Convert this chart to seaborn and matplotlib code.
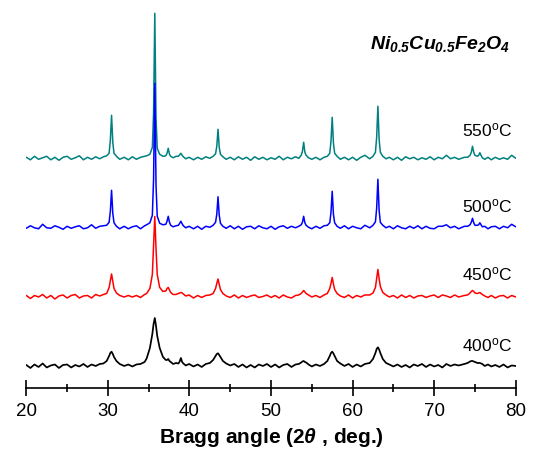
import numpy as np
import pandas as pd
import matplotlib
matplotlib.use("Agg")
import matplotlib.pyplot as plt
from matplotlib.ticker import MultipleLocator
import seaborn as sns

# ---- data ----
two_theta = [
    20.0, 20.5, 21.0, 21.5, 22.0, 22.5, 23.0, 23.5, 24.0, 24.5,
    25.0, 25.5, 26.0, 26.5, 27.0, 27.5, 28.0, 28.5, 29.0, 29.45,
    29.85, 30.15, 30.3, 30.45, 30.6, 30.75, 31.05, 31.45, 32.0, 32.5,
    33.0, 33.5, 34.0, 34.5, 34.75, 35.15, 35.45, 35.6, 35.75, 35.9,
    36.05, 36.35, 36.75, 37.1, 37.25, 37.4, 37.55, 37.7, 38.0, 38.35,
    38.65, 38.8, 38.95, 39.1, 39.25, 39.55, 39.95, 40.5, 41.0, 41.5,
    42.0, 42.5, 42.9, 43.2, 43.35, 43.5, 43.65, 43.8, 44.1, 44.5,
    45.0, 45.5, 46.0, 46.5, 47.0, 47.5, 48.0, 48.5, 49.0, 49.5,
    50.0, 50.5, 51.0, 51.5, 52.0, 52.5, 53.0, 53.4, 53.7, 53.85,
    54.0, 54.15, 54.3, 54.6, 55.0, 55.5, 56.0, 56.5, 56.9, 57.2,
    57.35, 57.5, 57.65, 57.8, 58.1, 58.5, 59.0, 59.5, 60.0, 60.5,
    61.0, 61.5, 62.1, 62.5, 62.8, 62.95, 63.1, 63.25, 63.4, 63.7,
    64.1, 64.5, 65.0, 65.5, 66.0, 66.5, 67.0, 67.5, 68.0, 68.5,
    69.0, 69.5, 70.0, 70.5, 71.0, 71.5, 72.0, 72.5, 73.0, 73.7,
    74.1, 74.4, 74.55, 74.7, 74.85, 75.0, 75.3, 75.45, 75.6, 75.75,
    75.9, 76.2, 76.6, 77.0, 77.5, 78.0, 78.5, 79.0, 79.5, 80.0,
]

int_550 = [
    1.0, -1.5, 2.0, -1.0, 0.5, 2.0, -1.5, 1.0, -2.0, 1.0,
    2.0, -1.0, 0.5, 2.5, -1.5, 1.0, -1.0, 1.5, -0.5, 1.5,
    2.5, 5.0, 18.0, 43.0, 16.0, 5.0, 2.0, -1.0, 1.0, -1.5,
    1.5, -1.0, 1.0, 2.0, 2.5, 4.0, 11.0, 45.0, 145.0, 40.0,
    10.0, 4.0, 2.0, 2.5, 5.0, 10.0, 4.0, 2.0, 0.5, 2.0,
    2.0, 3.5, 5.0, 3.0, 1.5, -0.5, 1.0, -1.5, 1.0, -1.0,
    1.5, 0.0, 2.0, 4.5, 12.0, 29.0, 11.0, 4.0, 1.5, -1.0,
    1.0, -1.5, 1.5, -1.0, 1.0, -2.0, 1.5, -1.0, 1.0, -1.5,
    0.5, -1.0, 2.0, -1.5, 1.0, -0.5, 1.5, 0.0, 3.0, 7.0,
    16.0, 6.0, 3.0, 0.5, -1.0, 1.0, -1.5, 1.0, 2.0, 5.0,
    17.0, 41.0, 15.0, 5.0, 2.0, -1.0, 1.0, -1.5, 1.0, -2.0,
    1.0, 3.0, -0.5, 2.0, 6.0, 21.0, 52.0, 19.0, 6.0, 2.0,
    -0.5, 1.0, -1.5, 1.0, -2.0, 1.5, -0.5, 1.0, -1.5, 0.5,
    -1.0, 1.5, -1.5, 1.0, -0.5, 3.0, -0.5, 1.0, -1.0, 1.0,
    1.0, 3.0, 6.0, 12.0, 6.0, 3.0, 2.0, 3.0, 5.5, 3.0,
    0.5, -1.0, 1.0, -1.5, 1.0, -1.0, 0.5, -1.0, 3.0, 0.0,
]

int_500 = [
    -1.0, 1.5, -0.5, -1.5, 3.0, -0.5, -1.0, 1.5, 0.0, -2.0,
    1.0, -1.0, 0.5, 1.5, -1.5, -0.5, 2.5, -1.0, 1.0, 1.5,
    2.0, 5.0, 16.0, 37.0, 14.0, 4.5, 1.0, -1.5, 1.0, -1.5,
    0.5, 1.5, -1.5, 1.5, 2.5, 4.5, 12.0, 48.0, 144.0, 42.0,
    11.0, 4.0, 2.5, 3.0, 6.0, 11.0, 5.0, 2.0, 0.5, 1.5,
    2.0, 4.0, 6.0, 3.5, 1.5, -0.5, 1.0, -1.5, 1.0, -2.0,
    1.0, 0.0, 2.0, 5.0, 13.0, 30.5, 12.0, 4.0, 1.0, -1.0,
    1.5, -1.5, 1.0, -2.0, 0.5, 1.0, -1.5, 1.5, -0.5, -1.5,
    1.0, -2.0, 0.5, 1.5, -1.0, 1.0, -0.5, 1.0, 2.5, 5.0,
    11.0, 4.5, 2.0, 0.0, -1.5, 1.0, -1.0, 1.5, 2.0, 4.5,
    15.0, 36.0, 13.0, 4.5, 1.0, -1.0, 1.5, -1.5, 1.0, -0.5,
    -1.5, 2.0, -0.5, 2.0, 5.5, 19.0, 48.0, 17.0, 5.0, 2.0,
    -0.5, 1.0, -1.5, 1.5, -0.5, -1.5, 1.0, -1.0, 1.5, -1.5,
    1.0, -1.0, -1.5, 1.0, 1.0, 2.5, -0.5, 1.0, -1.5, 1.0,
    1.0, 2.5, 5.0, 9.0, 4.5, 2.0, 2.0, 2.5, 4.5, 2.5,
    0.5, 1.0, -1.5, 0.5, 1.0, -1.5, 1.0, -0.5, 3.0, 0.5,
]

int_450 = [
    1.0, -2.0, 1.0, -0.5, 2.0, -1.5, 1.0, -2.5, 0.5, 1.5,
    -1.5, 1.0, 2.0, -1.5, 0.5, 1.0, -1.5, 2.0, 0.5, 2.0,
    3.0, 9.0, 16.0, 22.5, 15.0, 8.0, 3.5, 1.0, -0.5, 1.0,
    -0.5, 1.0, -1.0, 2.0, 3.0, 8.0, 22.0, 50.0, 80.0, 48.0,
    22.0, 9.0, 5.0, 5.5, 8.0, 9.0, 6.5, 4.0, 2.0, 2.0,
    3.0, 3.5, 4.0, 3.5, 2.5, 0.5, 1.5, -1.5, 1.0, -1.0,
    1.0, 1.5, 3.0, 8.0, 13.0, 17.5, 12.0, 7.0, 3.0, 0.5,
    -1.0, 1.5, -1.5, 1.0, -1.0, 0.5, 1.5, -1.0, 0.0, 1.5,
    -1.0, 1.0, -1.5, 1.5, -0.5, -1.5, 1.0, 1.5, 3.0, 4.5,
    6.0, 4.5, 3.0, 1.5, -0.5, 1.0, -1.0, 1.5, 3.0, 8.0,
    13.0, 19.0, 12.5, 7.0, 3.0, 0.5, -1.0, 1.5, -1.5, 1.0,
    -0.5, 1.5, 1.5, 3.5, 9.0, 18.0, 27.0, 18.0, 10.0, 4.0,
    1.5, -0.5, 1.0, -1.5, 1.5, -1.0, 1.0, -1.5, 0.5, 1.0,
    -1.0, 0.5, 1.5, -1.0, 1.5, 0.5, -1.0, 1.5, -0.5, 1.0,
    1.5, 3.5, 5.0, 6.0, 5.0, 3.5, 3.0, 3.5, 4.0, 3.0,
    2.0, 0.5, -1.0, 1.0, -1.5, 0.5, 1.0, -1.5, 1.0, -0.5,
]

int_400 = [
    1.0, -2.0, 1.5, -1.0, 2.5, -1.5, 0.5, 1.5, -2.0, 1.0,
    1.5, -1.5, 1.0, -0.5, 2.0, -1.0, 1.5, 0.0, 2.0, 2.5,
    5.0, 10.0, 13.0, 14.3, 12.0, 9.0, 5.0, 2.0, 0.0, 1.5,
    -0.5, 1.5, 2.0, 4.0, 7.5, 18.0, 32.0, 42.0, 48.0, 40.0,
    30.0, 18.0, 9.0, 6.0, 6.0, 7.0, 5.0, 4.0, 2.0, 3.0,
    2.5, 4.5, 8.0, 4.0, 2.5, 0.5, 2.0, -0.5, 1.5, -1.0,
    2.0, 3.0, 6.0, 10.0, 12.0, 12.7, 11.0, 9.0, 5.0, 2.5,
    0.5, 2.0, -1.0, 1.5, -1.5, 1.0, -1.5, 1.5, 0.0, 2.0,
    -1.0, 1.5, -1.5, 1.0, 2.0, -1.0, 1.5, 2.0, 3.5, 4.5,
    5.0, 4.0, 3.5, 1.5, -0.5, 1.5, 0.0, 2.0, 5.0, 10.0,
    13.0, 14.3, 12.5, 10.0, 5.0, 2.5, 0.0, 2.0, -1.0, 1.5,
    -0.5, 2.0, 3.0, 7.0, 13.0, 17.0, 18.7, 16.5, 13.0, 7.0,
    3.0, 1.5, -0.5, 1.5, -1.0, 1.0, -1.5, 1.5, 0.0, 2.0,
    -1.0, 1.5, -0.5, 1.0, -1.5, 2.0, 0.0, 1.5, 0.5, 2.0,
    3.0, 4.5, 5.0, 5.0, 4.5, 4.0, 3.0, 3.0, 3.0, 2.5,
    2.0, 0.0, 1.5, -0.5, 1.0, -1.0, 1.5, -1.5, 0.5, 0.0,
]

series_labels = ["550", "500", "450", "400"]
series_offsets = [229.7, 160.7, 91.5, 22.0]
series_colors = ["#008080", "#0000ff", "#ff0000", "#000000"]
series_widths = [1.1, 1.1, 1.1, 1.25]
label_y = [252.0, 175.5, 108.0, 36.5]
series_data = [int_550, int_500, int_450, int_400]

x_ticks = [20, 30, 40, 50, 60, 70, 80]

for d in series_data:
    assert len(d) == len(two_theta), len(d)

# ---- style ----
sns.set_theme(style="white")
plt.rcParams["font.family"] = ["Liberation Sans", "DejaVu Sans"]
plt.rcParams["text.color"] = "black"
plt.rcParams["axes.labelcolor"] = "black"
plt.rcParams["xtick.color"] = "black"
plt.rcParams["mathtext.fontset"] = "custom"
plt.rcParams["mathtext.rm"] = "Liberation Sans:italic:bold"
plt.rcParams["mathtext.it"] = "Liberation Sans:italic:bold"
plt.rcParams["mathtext.bf"] = "Liberation Sans:bold"
plt.rcParams["mathtext.sf"] = "Liberation Sans"

fig = plt.figure(figsize=(5.35, 4.49), dpi=100)
ax = fig.add_axes([0.0492, 0.1359, 0.9148, 0.8463])

frames = []
for lab, off, d in zip(series_labels, series_offsets, series_data):
    frames.append(pd.DataFrame({"two_theta": two_theta,
                                "intensity": np.asarray(d) + off,
                                "T": lab}))
df = pd.concat(frames, ignore_index=True)

for lab, col, w in zip(series_labels, series_colors, series_widths):
    sub = df[df["T"] == lab]
    sns.lineplot(data=sub, x="two_theta", y="intensity", color=col,
                 lw=w, sort=False, estimator=None, ax=ax)

for lab, ly in zip(series_labels, label_y):
    ax.text(79.6, ly, lab + r"$^\mathsf{o}$C", ha="right", va="baseline",
            fontsize=12.5, color="black")

ax.text(79.25, 338.5, r"$Ni_{0.5}Cu_{0.5}Fe_{2}O_{4}$",
        ha="right", va="baseline", fontsize=14, color="black")

ax.set_xlim(20, 80)
ax.set_ylim(0, 380)
ax.set_yticks([])
ax.set_ylabel("")
for s in ["left", "top", "right"]:
    ax.spines[s].set_visible(False)
ax.spines["bottom"].set_linewidth(1.2)
ax.spines["bottom"].set_color("black")
ax.set_xticks(x_ticks)
ax.set_xticklabels([str(t) for t in x_ticks])
ax.xaxis.set_minor_locator(MultipleLocator(5))
ax.tick_params(axis="x", which="major", direction="inout", length=11,
               width=1.2, labelsize=13.5, pad=5.5, colors="black",
               labelcolor="black", bottom=True)
ax.tick_params(axis="x", which="minor", direction="inout", length=6,
               width=1.2, bottom=True, colors="black")
ax.set_xlabel(r"Bragg angle (2$\theta$ , deg.)", fontsize=15,
              fontweight="bold", labelpad=4, color="black")

fig.savefig("out.png", dpi=100)
